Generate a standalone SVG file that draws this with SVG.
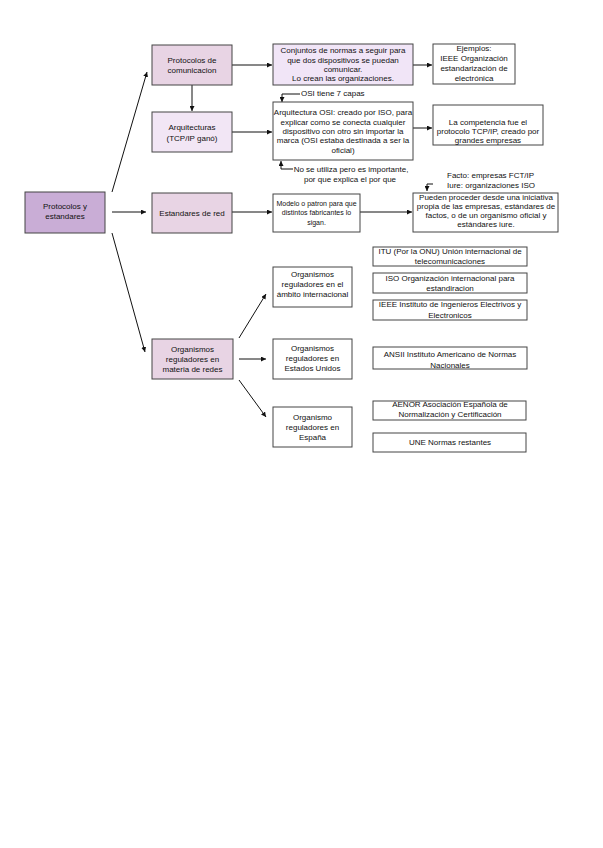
<svg xmlns="http://www.w3.org/2000/svg" width="603" height="848" viewBox="0 0 603 848">
<defs>
<marker id="ah" viewBox="0 0 10 10" refX="10" refY="5" markerWidth="5" markerHeight="5" orient="auto" markerUnits="userSpaceOnUse">
<path d="M0,0 L10,5 L0,10 z" fill="#111"/>
</marker>
<style>
.b{stroke:#444;stroke-width:1}
.t{font-family:"Liberation Sans",Arial,sans-serif;font-size:8px;fill:#111;text-anchor:middle}
.s{text-anchor:start}
.n{font-size:7px}
.c{fill:none;stroke:#111;stroke-width:1;marker-end:url(#ah)}
.p1{fill:#c9add6}
.p2{fill:#e8d4e4}
.p3{fill:#f2e6f5}
.p4{fill:#f1e5f7}
.w{fill:#fff}
</style>
</defs>
<rect width="603" height="848" fill="#fff"/>
<g id="connectors">
<path class="c" d="M112,192 L147,72"/>
<path class="c" d="M112,212 L146,212"/>
<path class="c" d="M112,233 L145,352"/>
<path class="c" d="M192,85 L192,111"/>
<path class="c" d="M232,65 L272,65"/>
<path class="c" d="M413,65 L432,65"/>
<path class="c" d="M232,132 L272,132"/>
<path class="c" d="M413,128 L432,128"/>
<path class="c" d="M232,212 L272,212"/>
<path class="c" d="M360,212 L412,212"/>
<path class="c" d="M239,338 L266,294"/>
<path class="c" d="M239,359 L266,359"/>
<path class="c" d="M239,380 L266,417"/>
<path class="c" d="M300,94 L282,94 L282,102"/>
<path class="c" d="M293,169 L281,169 L281,161"/>
<path class="c" d="M433,184 L427,184 L427,191"/>
</g>
<g id="n-main"><rect class="b p1" x="25" y="192" width="80" height="41"/>
<text class="t" x="65" y="209">Protocolos y</text><text class="t" x="65" y="219">estandares</text></g>
<g id="n-protocolos"><rect class="b p2" x="152" y="45" width="80" height="40"/>
<text class="t" x="192" y="63">Protocolos de</text><text class="t" x="192" y="73">comunicacion</text></g>
<g id="n-arquitecturas"><rect class="b p3" x="152" y="112" width="80" height="40"/>
<text class="t" x="192" y="130">Arquitecturas</text><text class="t" x="192" y="141">(TCP/IP ganó)</text></g>
<g id="n-estandares"><rect class="b p2" x="152" y="193" width="80" height="40"/>
<text class="t" x="192" y="216">Estandares de red</text></g>
<g id="n-organismos"><rect class="b p2" x="152" y="339" width="81" height="40"/>
<text class="t" x="192.5" y="352">Organismos</text><text class="t" x="192.5" y="362">reguladores en</text><text class="t" x="192.5" y="372">materia de redes</text></g>
<g id="n-conjuntos"><rect class="b p4" x="273" y="44" width="140" height="41"/>
<text class="t" x="343" y="53">Conjuntos de normas a seguir para</text><text class="t" x="343" y="63">que dos dispositivos se puedan</text><text class="t" x="343" y="72">comunicar.</text><text class="t" x="343" y="81">Lo crean las organizaciones.</text></g>
<g id="n-ejemplos"><rect class="b w" x="433" y="44" width="82" height="40"/>
<text class="t" x="474" y="51">Ejemplos:</text><text class="t" x="474" y="61">IEEE Organización</text><text class="t" x="474" y="71">estandarización de</text><text class="t" x="474" y="81">electrónica</text></g>
<g id="n-osi"><rect class="b w" x="273" y="102" width="140" height="58"/>
<text class="t" x="343" y="115">Arquitectura OSI: creado por ISO, para</text><text class="t" x="343" y="125">explicar como se conecta cualquier</text><text class="t" x="343" y="134">dispositivo con otro sin importar la</text><text class="t" x="343" y="143">marca (OSI estaba destinada  a ser la</text><text class="t" x="343" y="153">oficial)</text></g>
<g id="l-osi7"><text class="t s" x="301" y="96">OSI tiene 7 capas</text></g>
<g id="l-nose"><text class="t" x="351" y="172">No se utiliza pero es importante,</text><text class="t" x="350" y="182">por que explica el por que</text></g>
<g id="n-competencia"><rect class="b w" x="433" y="105" width="110" height="40"/>
<text class="t" x="488" y="125">La competencia fue el</text><text class="t" x="488" y="134">protocolo TCP/IP, creado por</text><text class="t" x="488" y="143">grandes empresas</text></g>
<g id="n-modelo"><rect class="b w" x="273" y="194" width="87" height="38"/>
<text class="t n" x="316.5" y="206">Modelo o patron para que</text><text class="t n" x="316.5" y="215">distintos fabricantes lo</text><text class="t n" x="316.5" y="225">sigan.</text></g>
<g id="l-facto"><text class="t s" x="447" y="178">Facto: empresas FCT/IP</text><text class="t s" x="447" y="188">Iure: organizaciones ISO</text></g>
<g id="n-pueden"><rect class="b w" x="413" y="193" width="145" height="39"/>
<text class="t" x="486" y="200">Pueden proceder desde una iniciativa</text><text class="t" x="486" y="209">propia de las empresas, estándares de</text><text class="t" x="486" y="218">factos, o de un organismo oficial y</text><text class="t" x="486" y="227">estándares iure.</text></g>
<g id="n-intl"><rect class="b w" x="273" y="267" width="79" height="40"/>
<text class="t" x="312.5" y="277">Organismos</text><text class="t" x="312.5" y="287">reguladores en el</text><text class="t" x="312.5" y="297">ámbito internacional</text></g>
<g id="n-us"><rect class="b w" x="273" y="339" width="79" height="40"/>
<text class="t" x="312.5" y="351">Organismos</text><text class="t" x="312.5" y="361">reguladores en</text><text class="t" x="312.5" y="371">Estados Unidos</text></g>
<g id="n-es"><rect class="b w" x="273" y="407" width="79" height="40"/>
<text class="t" x="312.5" y="420">Organismo</text><text class="t" x="312.5" y="430">reguladores en</text><text class="t" x="312.5" y="440">España</text></g>
<g id="n-itu"><rect class="b w" x="373" y="247" width="154" height="19"/>
<text class="t" x="450" y="253.5">ITU (Por la ONU) Unión internacional de</text><text class="t" x="450" y="263.5">telecomunicaciones</text></g>
<g id="n-iso"><rect class="b w" x="373" y="273" width="154" height="20"/>
<text class="t" x="450" y="281">ISO Organización internacional para</text><text class="t" x="450" y="291">estandiracion</text></g>
<g id="n-ieee"><rect class="b w" x="373" y="300" width="154" height="20"/>
<text class="t" x="450" y="307">IEEE Instituto de Ingenieros Electrivos y</text><text class="t" x="450" y="318">Electronicos</text></g>
<g id="n-ansii"><rect class="b w" x="373" y="347" width="154" height="22"/>
<text class="t" x="450" y="357">ANSII Instituto Americano de Normas</text><text class="t" x="450" y="368">Nacionales</text></g>
<g id="n-aenor"><rect class="b w" x="373" y="401" width="153" height="19"/>
<text class="t" x="450" y="407">AENOR Asociación Española de</text><text class="t" x="450" y="417">Normalización y Certificación</text></g>
<g id="n-une"><rect class="b w" x="373" y="433" width="153" height="19"/>
<text class="t" x="450" y="445">UNE Normas restantes</text></g>
</svg>
